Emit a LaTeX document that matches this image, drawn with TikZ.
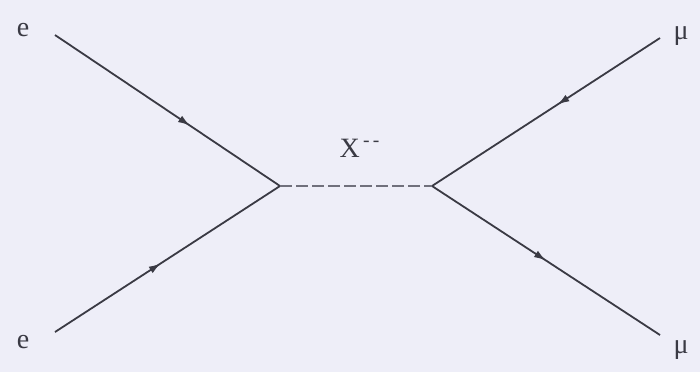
\documentclass[tikz,border=0pt]{standalone}
\usepackage{fontspec}
\setmainfont{Liberation Serif}
\usetikzlibrary{decorations.markings,arrows.meta}
\definecolor{bgc}{HTML}{EEEEF8}
\definecolor{lnc}{HTML}{3A3A44}
\definecolor{dashc}{HTML}{70707C}
\begin{document}
\begin{tikzpicture}[x=0.5pt,y=-0.5pt,
  fermion/.style={draw=lnc,line width=0.9pt,postaction={decorate},
    decoration={markings,mark=at position #1 with {\arrow[lnc]{Latex[length=6pt,width=3.8pt]}}}},
  fermionrev/.style={draw=lnc,line width=0.9pt,postaction={decorate},
    decoration={markings,mark=at position #1 with {\arrowreversed[lnc]{Latex[length=6pt,width=3.8pt]}}}},
  boson/.style={draw=dashc,line width=0.9pt,dash pattern=on 6pt off 2pt},
  lab/.style={text=lnc,font=\fontsize{14}{16}\selectfont,inner sep=0pt}]
\fill[bgc] (0,0) rectangle (700,372);
\useasboundingbox (0,0) rectangle (700,372);
\coordinate (e1) at (55,35);
\coordinate (e2) at (55,332);
\coordinate (v1) at (280,186);
\coordinate (v2) at (432,186);
\coordinate (m1) at (660,38);
\coordinate (m2) at (660,335);
\path[fermion=0.6] (e1) -- (v1);
\path[fermion=0.47] (e2) -- (v1);
\path[fermionrev=0.55] (v2) -- (m1);
\path[fermion=0.5] (v2) -- (m2);
\path[boson] (v1) -- (v2);
\node[lab] (le1) at (23,30) {e};
\node[lab] (le2) at (23,342) {e};
\node[lab] (lm1) at (681,36) {μ};
\node[lab] (lm2) at (681,350) {μ};
\node[lab] (lx) at (360,148) {X\textsuperscript{\,-\,-}};
\end{tikzpicture}
\end{document}
